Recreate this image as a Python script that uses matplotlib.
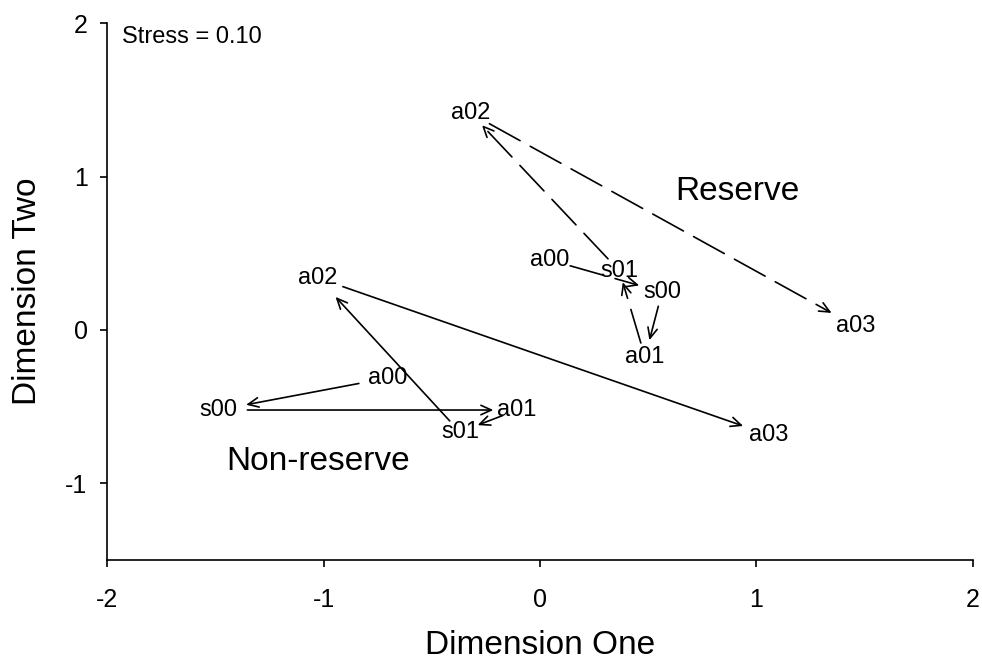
import numpy as np
import matplotlib.pyplot as plt
from matplotlib.patches import FancyArrowPatch, ArrowStyle

plt.rcParams['font.family'] = ['Liberation Sans', 'DejaVu Sans']
plt.rcParams['axes.unicode_minus'] = False

# sampling occasions, in the order the trajectory visits them
labels = ['a00', 's00', 'a01', 's01', 'a02', 'a03']

# MDS ordination scores (dimension one, dimension two)
nonreserve_x = [-0.702, -1.487, -0.106, -0.370, -1.025, 1.058]
nonreserve_y = [-0.313, -0.522, -0.522, -0.665, 0.339, -0.685]
reserve_x = [0.044, 0.564, 0.485, 0.367, -0.319, 1.460]
reserve_y = [0.457, 0.248, -0.176, 0.385, 1.412, 0.023]

stress = 0.10

# gap left between each label and the arrow tail / head (pixels)
nonreserve_gap = [(29.7, 28.5), (29.3, 23.7), (15.6, 19.0), (15.0, 25.7), (26.2, 27.4)]
reserve_gap = [(21.5, 23.7), (14.8, 17.3), (14.6, 11.7), (16.7, 16.0), (21.1, 27.9)]

fig = plt.figure(figsize=(9.82, 6.63), dpi=100)
ax = fig.add_axes([0.109, 0.1554, 0.8818, 0.8094])

px = 72.0 / fig.dpi  # pixels -> points
head = ArrowStyle('->', head_length=7.5, head_width=3.4)


def draw_path(xs, ys, gaps, ls):
    for i in range(len(xs) - 1):
        a, b = gaps[i]
        arr = FancyArrowPatch((xs[i], ys[i]), (xs[i + 1], ys[i + 1]),
                              arrowstyle=head, mutation_scale=1,
                              shrinkA=a * px, shrinkB=b * px,
                              lw=1.2, ls=ls, color='black',
                              transform=ax.transData, clip_on=False)
        ax.add_patch(arr)
    for x, y, t in zip(xs, ys, labels):
        ax.text(x, y, t, ha='center', va='center', fontsize=17)


draw_path(nonreserve_x, nonreserve_y, nonreserve_gap, '-')
draw_path(reserve_x, reserve_y, reserve_gap, (0, (21, 7)))

ax.text(0.910, 0.900, 'Reserve', ha='center', va='center', fontsize=24)
ax.text(-1.025, -0.861, 'Non-reserve', ha='center', va='center', fontsize=24)
ax.text(-1.931, 1.911, 'Stress = %.2f' % stress, ha='left', va='center', fontsize=17)

ax.set_xlim(-2, 2)
ax.set_ylim(-1.5, 2)
ax.set_xticks([-2, -1, 0, 1, 2])
ax.set_yticks([-1, 0, 1, 2])
for s in ['top', 'right']:
    ax.spines[s].set_visible(False)
for s in ['left', 'bottom']:
    ax.spines[s].set_linewidth(1.2)
ax.tick_params(direction='out', length=5, width=1.2, labelsize=18)
ax.tick_params(axis='x', pad=15)
ax.tick_params(axis='y', pad=9)
ax.set_xlabel('Dimension One', fontsize=24, labelpad=13)
ax.set_ylabel('Dimension Two', fontsize=24, labelpad=16)

fig.savefig('out.png', dpi=100)
